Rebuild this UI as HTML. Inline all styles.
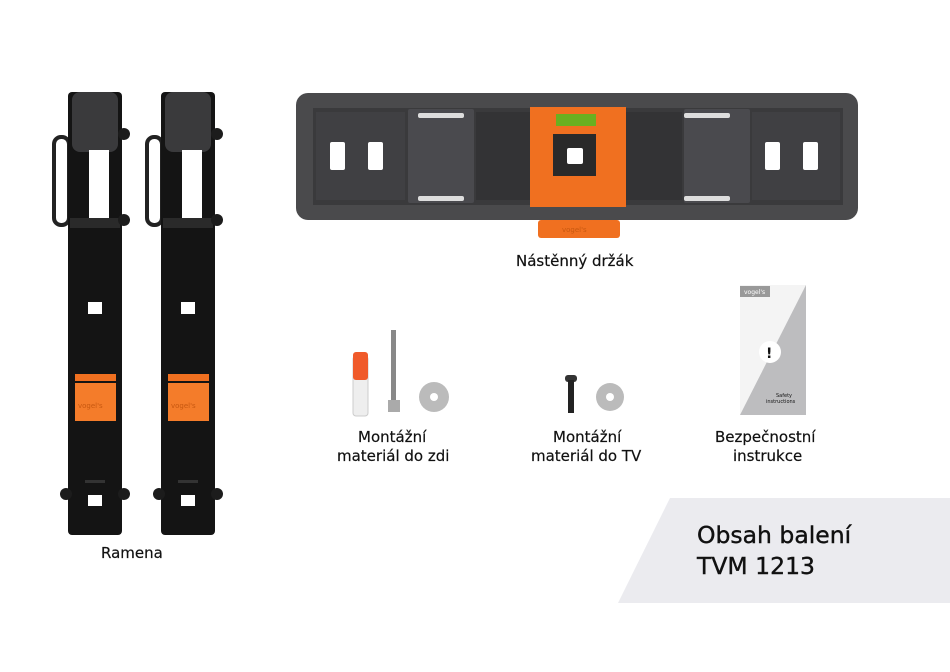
<!DOCTYPE html>
<html><head><meta charset="utf-8"><style>
html,body{margin:0;padding:0;background:#fff;width:950px;height:672px;overflow:hidden}
svg{display:block}
text{font-family:"DejaVu Sans","Liberation Sans",sans-serif;fill:#111}
</style></head><body>
<svg width="950" height="672" viewBox="0 0 950 672" xmlns="http://www.w3.org/2000/svg">
<polygon points="670,498 950,498 950,603 618,603" fill="#ebebef"/>
<text x="697" y="543" font-size="23.5" stroke="#111" stroke-width="0.4">Obsah balení</text>
<text x="697" y="574" font-size="23.5" stroke="#111" stroke-width="0.4">TVM 1213</text>

<g id="arm">
  <rect x="54" y="137" width="15" height="88" rx="7" fill="none" stroke="#222" stroke-width="4"/>
  <rect x="68" y="92" width="54" height="443" rx="4" fill="#141414"/>
  <rect x="72" y="92" width="46" height="60" rx="8" fill="#3a3a3c"/>
  <rect x="89" y="150" width="20" height="70" fill="#fff"/>
  <rect x="70" y="218" width="50" height="10" fill="#2a2a2a"/>
  <circle cx="124" cy="134" r="6" fill="#1c1c1c"/>
  <circle cx="124" cy="220" r="6" fill="#1c1c1c"/>
  <circle cx="124" cy="494" r="6" fill="#1c1c1c"/>
  <circle cx="66" cy="494" r="6" fill="#1c1c1c"/>
  <rect x="88" y="302" width="14" height="12" fill="#fff"/>
  <rect x="75" y="374" width="41" height="7" fill="#f07020"/>
  <rect x="75" y="383" width="41" height="38" fill="#f47c2a"/>
  <text x="78" y="408" font-size="7" style="fill:#c85810">vogel's</text>
  <rect x="88" y="495" width="14" height="11" fill="#fff"/>
  <rect x="85" y="480" width="20" height="3" fill="#333"/>
</g>
<use href="#arm" transform="translate(93,0)"/>
<text x="101" y="558" font-size="15" stroke="#111" stroke-width="0.2">Ramena</text>

<rect x="296" y="93" width="562" height="127" rx="12" fill="#4a4a4c"/>
<rect x="313" y="108" width="530" height="97" fill="#3a3a3c"/>
<rect x="316" y="112" width="89" height="88" fill="#404043"/>
<rect x="408" y="109" width="66" height="94" rx="2" fill="#4a4a4e"/>
<rect x="476" y="112" width="56" height="88" fill="#333335"/>
<rect x="626" y="112" width="56" height="88" fill="#333335"/>
<rect x="684" y="109" width="66" height="94" rx="2" fill="#4a4a4e"/>
<rect x="752" y="112" width="88" height="88" fill="#404043"/>
<rect x="418" y="113" width="46" height="5" rx="2" fill="#ddd"/>
<rect x="418" y="196" width="46" height="5" rx="2" fill="#ddd"/>
<rect x="684" y="113" width="46" height="5" rx="2" fill="#ddd"/>
<rect x="684" y="196" width="46" height="5" rx="2" fill="#ddd"/>
<rect x="330" y="142" width="15" height="28" rx="2" fill="#fff"/>
<rect x="368" y="142" width="15" height="28" rx="2" fill="#fff"/>
<rect x="765" y="142" width="15" height="28" rx="2" fill="#fff"/>
<rect x="803" y="142" width="15" height="28" rx="2" fill="#fff"/>
<rect x="538" y="220" width="82" height="18" rx="3" fill="#f07020"/>
<text x="562" y="232" font-size="7" style="fill:#c85810">vogel's</text>
<rect x="530" y="107" width="96" height="100" fill="#f07020"/>
<rect x="556" y="114" width="40" height="12" fill="#6ab020"/>
<rect x="553" y="134" width="43" height="42" fill="#2a2a2a"/>
<rect x="567" y="148" width="16" height="16" rx="2" fill="#fff"/>
<text x="516" y="266" font-size="15" stroke="#111" stroke-width="0.2">Nástěnný držák</text>

<rect x="353" y="356" width="15" height="60" rx="3" fill="#eee" stroke="#ccc"/>
<rect x="353" y="352" width="15" height="28" rx="3" fill="#f05a2a"/>
<rect x="391" y="330" width="5" height="70" fill="#888"/>
<rect x="388" y="400" width="12" height="12" fill="#aaa"/>
<circle cx="434" cy="397" r="15" fill="#bbb"/>
<circle cx="434" cy="397" r="4" fill="#fff"/>
<text x="358" y="442" font-size="15" stroke="#111" stroke-width="0.2">Montážní</text>
<text x="337" y="461" font-size="15" stroke="#111" stroke-width="0.2">materiál do zdi</text>

<rect x="565" y="375" width="12" height="7" rx="3" fill="#333"/>
<rect x="568" y="380" width="6" height="33" fill="#222"/>
<circle cx="610" cy="397" r="14" fill="#bbb"/>
<circle cx="610" cy="397" r="4" fill="#fff"/>
<text x="553" y="442" font-size="15" stroke="#111" stroke-width="0.2">Montážní</text>
<text x="531" y="461" font-size="15" stroke="#111" stroke-width="0.2">materiál do TV</text>

<rect x="740" y="285" width="66" height="130" fill="#f4f4f4"/>
<polygon points="806,285 806,415 740,415" fill="#bdbdbf"/>
<rect x="740" y="286" width="30" height="11" fill="#999"/>
<text x="744" y="294" font-size="6" style="fill:#fff">vogel's</text>
<circle cx="770" cy="352" r="11" fill="#fff"/>
<text x="766" y="358" font-size="14" font-weight="bold">!</text>
<text x="776" y="397" font-size="5">Safety</text>
<text x="766" y="403" font-size="5">instructions</text>
<text x="715" y="442" font-size="15" stroke="#111" stroke-width="0.2">Bezpečnostní</text>
<text x="733" y="461" font-size="15" stroke="#111" stroke-width="0.2">instrukce</text>
</svg>
</body></html>
